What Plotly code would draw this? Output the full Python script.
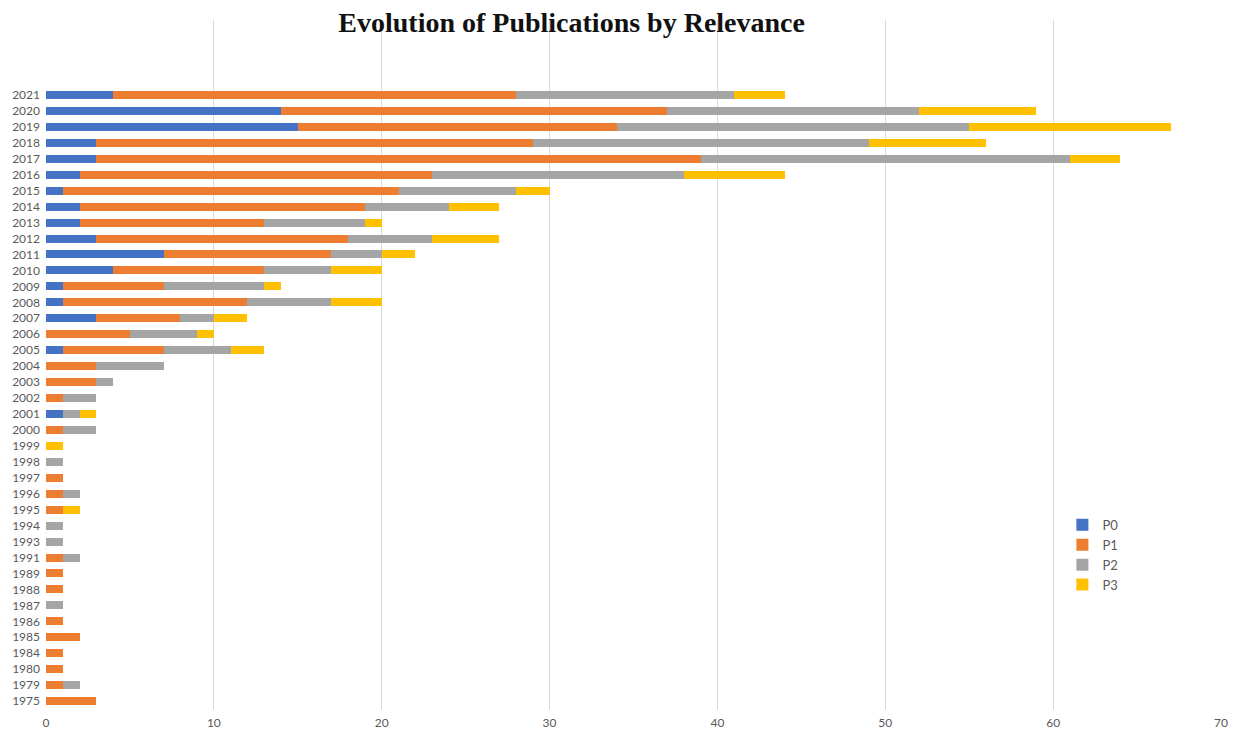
import plotly.graph_objects as go

years = ["1975", "1979", "1980", "1984", "1985", "1986", "1987", "1988", "1989",
         "1991", "1993", "1994", "1995", "1996", "1997", "1998", "1999", "2000",
         "2001", "2002", "2003", "2004", "2005", "2006", "2007", "2008", "2009",
         "2010", "2011", "2012", "2013", "2014", "2015", "2016", "2017", "2018",
         "2019", "2020", "2021"]

p0 = [0, 0, 0, 0, 0, 0, 0, 0, 0,
      0, 0, 0, 0, 0, 0, 0, 0, 0,
      1, 0, 0, 0, 1, 0, 3, 1, 1,
      4, 7, 3, 2, 2, 1, 2, 3, 3,
      15, 14, 4]
p1 = [3, 1, 1, 1, 2, 1, 0, 1, 1,
      1, 0, 0, 1, 1, 1, 0, 0, 1,
      0, 1, 3, 3, 6, 5, 5, 11, 6,
      9, 10, 15, 11, 17, 20, 21, 36, 26,
      19, 23, 24]
p2 = [0, 1, 0, 0, 0, 0, 1, 0, 0,
      1, 1, 1, 0, 1, 0, 1, 0, 2,
      1, 2, 1, 4, 4, 4, 2, 5, 6,
      4, 3, 5, 6, 5, 7, 15, 22, 20,
      21, 15, 13]
p3 = [0, 0, 0, 0, 0, 0, 0, 0, 0,
      0, 0, 0, 1, 0, 0, 0, 1, 0,
      1, 0, 0, 0, 2, 1, 2, 3, 1,
      3, 2, 4, 1, 3, 2, 6, 3, 7,
      12, 7, 3]

series = [("P0", p0, "#4472C4"), ("P1", p1, "#ED7D31"),
          ("P2", p2, "#A5A5A5"), ("P3", p3, "#FFC000")]

x_ticks = [0, 10, 20, 30, 40, 50, 60, 70]

fig = go.Figure()
for name, vals, color in series:
    fig.add_trace(go.Bar(
        y=years, x=vals, name=name, orientation="h",
        marker=dict(color=color, line=dict(width=0)),
    ))

fig.update_layout(
    width=1240, height=729,
    barmode="stack", bargap=0.5,
    plot_bgcolor="white", paper_bgcolor="white",
    margin=dict(l=46, r=19, t=20, b=19, autoexpand=False),
    title=dict(text="<b>Evolution of Publications by Relevance</b>",
               font=dict(family="Liberation Serif", size=28, color="#111111"),
               x=0.461, xanchor="center", y=0.97, yanchor="middle"),
    font=dict(family="Lato", size=12, color="#595959"),
    showlegend=True,
    legend=dict(x=0.865, xanchor="left", y=0.29, yanchor="top",
                traceorder="normal", bgcolor="rgba(0,0,0,0)",
                font=dict(family="Lato", size=13, color="#595959"),
                itemwidth=30),
    xaxis=dict(range=[0, 70], tickvals=x_ticks, showgrid=True,
               gridcolor="#D9D9D9", gridwidth=1, zeroline=False,
               showline=False, ticks="", ticklabelstandoff=4, automargin=False,
               tickfont=dict(size=12, color="#595959")),
    yaxis=dict(type="category", categoryorder="array", categoryarray=years,
               range=[-0.56, 42.7], showgrid=False, zeroline=False,
               showline=False, ticks="", ticklabelstandoff=5, automargin=False,
               tickfont=dict(size=12, color="#595959")),
)

fig.write_html("out.html", config={"displayModeBar": False},
               post_script="document.body.style.margin='0px';document.body.style.overflow='hidden';")
